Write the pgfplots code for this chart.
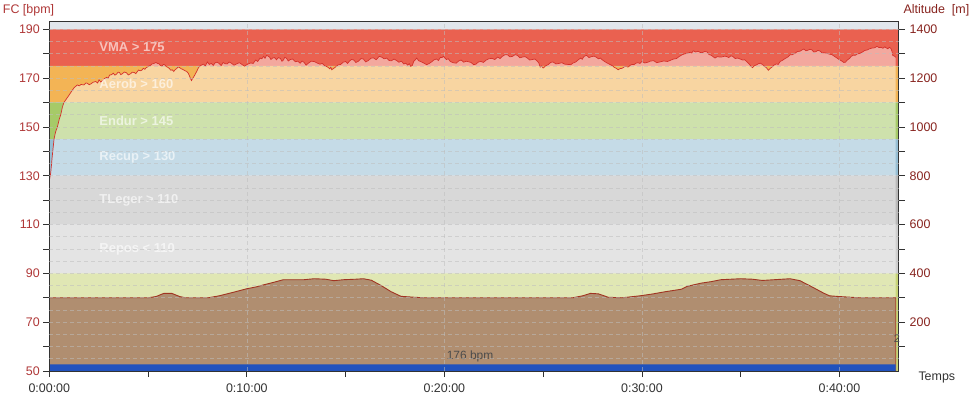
\documentclass[border=0pt]{standalone}
\usepackage{pgfplots}
\pgfplotsset{compat=1.18}
\usepackage{pgfplotstable}
\usepackage{fontspec}
\setmainfont{Liberation Sans}

\definecolor{topbg}{RGB}{225,230,236}
\definecolor{zvma}{RGB}{234,97,80}
\definecolor{zaer}{RGB}{243,180,85}
\definecolor{zend}{RGB}{166,202,104}
\definecolor{zrec}{RGB}{150,190,212}
\definecolor{ztle}{RGB}{185,185,185}
\definecolor{zrep}{RGB}{207,207,207}
\definecolor{zlow}{RGB}{200,213,119}
\definecolor{hrline}{RGB}{212,48,42}
\definecolor{altfill}{RGB}{176,142,112}
\definecolor{altline}{RGB}{160,52,34}
\definecolor{barblue}{RGB}{33,82,190}
\definecolor{fcred}{RGB}{175,55,55}
\definecolor{altred}{RGB}{135,35,30}
\definecolor{gridc}{RGB}{190,190,190}
\definecolor{txtgray}{RGB}{50,50,50}

\pgfplotstableread{
t bpm
0.00 128
0.07 131
0.15 138
0.24 145
0.32 148
0.41 150
0.50 153
0.58 155
0.66 158
0.74 160
0.87 161.5
1.00 163
1.12 164.5
1.25 166
1.42 167.2
1.52 166.8
1.60 167.4
1.75 167.2
1.85 168.0
1.92 167.9
2.02 167.3
2.10 167.6
2.22 168.3
2.35 168.6
2.45 168.0
2.52 169.3
2.60 168.4
2.70 169.0
2.80 169.8
2.90 170.3
2.98 170.0
3.05 171.2
3.15 171.4
3.24 172.0
3.32 171.2
3.40 171.6
3.48 172.4
3.55 172.3
3.62 171.4
3.70 171.8
3.80 172.5
3.90 172.2
4.00 171.3
4.10 171.7
4.20 172.4
4.30 172.3
4.38 171.8
4.45 172.6
4.52 173.3
4.60 173.0
4.68 173.2
4.76 174.0
4.84 173.6
4.90 174.2
4.98 174.6
5.05 175.0
5.12 175.2
5.20 175.8
5.30 176.0
5.40 176.4
5.48 176.0
5.55 175.9
5.62 175.2
5.70 174.9
5.78 175.6
5.85 175.4
5.92 174.7
6.00 174.4
6.08 173.9
6.15 173.2
6.22 173.4
6.30 172.7
6.38 173.5
6.45 173.9
6.52 174.6
6.60 174.3
6.68 173.8
6.75 173.6
6.85 173.1
6.96 172.7
7.04 171.9
7.10 170.8
7.15 169.8
7.20 169.0
7.26 169.9
7.32 170.6
7.40 171.8
7.46 172.7
7.53 173.9
7.60 174.8
7.70 175.3
7.80 175.7
7.90 175.0
8.00 176.6
8.10 175.6
8.20 176.0
8.30 175.2
8.40 176.3
8.50 176.5
8.60 176.0
8.70 175.1
8.80 176.4
8.90 175.9
9.00 175.8
9.10 176.6
9.20 176.2
9.35 175.3
9.50 175.9
9.62 176.3
9.75 175.6
9.88 174.9
10.00 175.5
10.10 175.9
10.20 176.2
10.32 176.0
10.45 177.4
10.55 176.8
10.67 178.2
10.76 177.9
10.85 178.9
10.92 178.1
11.00 179.3
11.08 179.0
11.15 178.6
11.22 177.6
11.30 178.2
11.40 178.4
11.50 177.5
11.60 178.4
11.70 178.0
11.78 176.9
11.85 177.4
11.92 178.5
12.00 178.2
12.10 177.0
12.20 177.6
12.32 177.8
12.45 176.7
12.58 176.9
12.70 176.1
12.80 177.0
12.90 176.4
13.00 175.3
13.10 176.0
13.25 176.9
13.40 176.8
13.55 176.2
13.70 175.7
13.82 176.0
13.95 175.0
14.08 174.6
14.20 173.8
14.25 174.5
14.30 173.4
14.40 174.0
14.50 174.6
14.62 175.4
14.75 175.6
14.88 176.5
15.00 176.8
15.10 176.0
15.20 177.0
15.30 177.6
15.40 177.5
15.52 176.4
15.65 176.9
15.78 178.0
15.90 177.8
16.02 176.6
16.15 177.2
16.28 178.1
16.40 178.3
16.55 177.5
16.70 178.9
16.82 178.6
16.95 177.9
17.08 178.2
17.20 177.2
17.32 177.1
17.45 177.8
17.58 177.2
17.70 176.5
17.82 176.9
17.95 175.8
18.05 176.1
18.15 175.3
18.22 175.9
18.30 174.8
18.38 175.2
18.45 176.9
18.52 177.4
18.60 178.2
18.70 177.1
18.80 176.8
18.95 176.2
19.10 175.5
19.22 175.9
19.35 176.6
19.48 177.5
19.60 177.8
19.70 177.2
19.80 178.5
19.88 178.4
19.95 178.9
20.02 178.3
20.10 177.6
20.20 177.9
20.30 176.8
20.45 176.3
20.60 176.1
20.72 177.0
20.85 177.4
20.98 176.5
21.10 176.9
21.22 176.7
21.35 176.4
21.48 175.5
21.60 175.7
21.72 176.6
21.85 176.8
21.98 176.4
22.10 177.3
22.25 177.9
22.40 178.1
22.55 177.6
22.70 178.6
22.82 178.0
22.95 179.0
23.08 179.6
23.20 179.5
23.32 178.7
23.45 178.9
23.58 179.6
23.70 179.3
23.82 178.3
23.95 178.6
24.08 178.8
24.20 178.2
24.32 177.4
24.45 177.6
24.58 177.8
24.70 177.0
24.78 176.2
24.85 174.5
24.92 175.0
25.00 174.1
25.12 175.0
25.25 175.5
25.38 176.4
25.50 176.6
25.65 175.8
25.80 176.0
25.95 176.3
26.10 175.7
26.25 175.6
26.40 175.5
26.52 176.2
26.65 176.6
26.78 177.5
26.90 178.2
26.98 177.7
27.05 178.7
27.12 179.1
27.20 179.3
27.32 178.4
27.45 178.8
27.58 179.0
27.70 178.5
27.80 177.9
27.90 178.2
28.02 177.3
28.15 176.6
28.28 176.0
28.40 175.5
28.50 175.1
28.60 174.4
28.70 174.0
28.80 173.4
28.90 173.9
29.00 174.0
29.10 174.6
29.20 174.8
29.30 174.5
29.40 175.2
29.50 175.6
29.60 175.5
29.70 176.1
29.80 176.3
29.90 176.0
30.00 176.8
30.15 176.2
30.30 176.5
30.45 177.0
30.60 177.1
30.75 176.3
30.90 176.6
31.10 177.0
31.30 176.8
31.45 177.3
31.60 177.8
31.75 178.0
31.90 178.9
32.05 179.6
32.20 180.0
32.32 180.2
32.45 180.6
32.52 180.3
32.60 181.2
32.72 180.7
32.85 181.0
32.95 180.5
33.05 180.4
33.18 180.9
33.30 180.7
33.40 179.6
33.50 179.4
33.60 178.8
33.70 178.2
33.82 178.8
33.95 178.6
34.08 178.7
34.20 179.0
34.30 178.8
34.40 178.4
34.50 179.1
34.60 178.9
34.72 178.0
34.85 178.2
34.98 177.8
35.10 177.4
35.20 177.5
35.30 176.8
35.38 176.2
35.45 175.6
35.52 174.8
35.60 174.3
35.70 175.1
35.80 175.4
35.90 175.9
36.00 176.1
36.10 175.6
36.20 174.8
36.30 174.3
36.40 173.2
36.50 174.0
36.60 174.6
36.70 175.4
36.80 175.8
36.90 175.6
37.00 176.8
37.12 177.3
37.25 178.0
37.38 178.6
37.50 179.5
37.62 179.6
37.75 180.2
37.88 180.9
38.00 181.0
38.10 181.5
38.20 181.9
38.30 181.2
38.40 181.4
38.50 181.8
38.60 181.6
38.70 180.7
38.80 180.8
38.90 181.3
39.00 181.2
39.12 180.3
39.25 180.4
39.38 180.1
39.50 179.8
39.62 179.6
39.75 178.9
39.88 178.2
40.00 177.5
40.08 177.2
40.15 176.8
40.22 176.4
40.30 176.5
40.40 177.4
40.50 178.0
40.60 178.9
40.70 179.4
40.80 179.3
40.90 179.9
41.02 180.1
41.15 180.6
41.28 181.3
41.40 181.5
41.52 182.0
41.65 182.3
41.78 182.4
41.90 183.0
42.00 182.5
42.10 182.6
42.20 182.2
42.30 182.8
42.38 182.3
42.45 182.0
42.52 182.6
42.60 182.2
42.66 181.0
42.70 179.3
42.78 179.0
42.85 178.5
}\hrdata

\pgfplotstableread{
t alt
0 300
5.0 300
5.4 305
5.8 318
6.2 318
6.6 305
6.9 300
8.05 300
8.6 308
9.2 320
10.0 337
10.5 345
10.8 352
11.3 362
11.85 374
12.9 374
13.4 378
14.0 376
14.4 370
14.9 374
15.5 376
15.9 378
16.3 372
16.8 350
17.3 325
17.8 306
18.5 302
19.0 300
26.5 300
27.0 308
27.4 318
27.8 316
28.3 302
29.0 300
29.9 308
30.5 315
31.2 325
32.0 335
32.3 347
33.0 360
33.5 366
34.0 374
35.0 378
35.6 376
36.1 371
36.7 374
37.5 378
38.0 370
38.6 345
39.2 319
39.5 308
40.0 305
41.0 300
42.85 300
}\altdata

\begin{document}
\begin{tikzpicture}
\useasboundingbox (-49.3bp,-25bp) rectangle (926.7bp,371bp);

% ---------- heart-rate axis (left) ----------
\begin{axis}[
  at={(0,0)}, anchor=south west,
  scale only axis, width=849.4bp, height=349.3bp,
  xmin=0, xmax=43.0, ymin=50, ymax=193.1,
  axis background/.style={fill=topbg},
  axis line style={draw=none},
  xtick=\empty,
  ytick={50,70,...,190}, minor ytick={60,80,...,180},
  ytick pos=left, yticklabel pos=left,
  tick align=outside,
  major tick length=6bp, minor tick length=6bp,
  every tick/.style={color=txtgray, line width=0.8pt},
  /pgf/number format/assume math mode=true,
  yticklabel style={font=\fontsize{12.5}{14}\selectfont, color=fcred},
]
\addplot[fill=zvma, draw=none] coordinates {(0,175)(43,175)(43,190)(0,190)(0,175)};
\addplot[fill=zaer, draw=none] coordinates {(0,160)(43,160)(43,175)(0,175)(0,160)};
\addplot[fill=zend, draw=none] coordinates {(0,145)(43,145)(43,160)(0,160)(0,145)};
\addplot[fill=zrec, draw=none] coordinates {(0,130)(43,130)(43,145)(0,145)(0,130)};
\addplot[fill=ztle, draw=none] coordinates {(0,110)(43,110)(43,130)(0,130)(0,110)};
\addplot[fill=zrep, draw=none] coordinates {(0,90)(43,90)(43,110)(0,110)(0,90)};
\addplot[fill=zlow, draw=none] coordinates {(0,50)(43,50)(43,90)(0,90)(0,50)};
\addplot[fill=white, fill opacity=0.45, draw=none] table[x=t,y=bpm]{\hrdata} \closedcycle;
\addplot[hrline, line width=0.7pt] table[x=t,y=bpm]{\hrdata};
\foreach \yy/\lab in {182.5/{VMA > 175},167.5/{Aerob > 160},152.5/{Endur > 145},137.5/{Recup > 130},120/{TLeger > 110},100/{Repos < 110}}{
  \edef\temp{\noexpand\node[anchor=west, text=white, text opacity=0.62, font=\noexpand\fontsize{13}{15}\noexpand\selectfont\noexpand\bfseries, inner sep=0pt] at (axis cs:2.53,\yy) {\lab};}
  \temp
}
\end{axis}

% ---------- altitude axis (right) ----------
\begin{axis}[
  at={(0,0)}, anchor=south west,
  scale only axis, width=849.4bp, height=349.3bp,
  xmin=0, xmax=43.0, ymin=0, ymax=1431,
  axis on top,
  axis line style={color=txtgray, line width=1pt},
  ytick={200,400,...,1400}, minor ytick={100,300,...,1300},
  ytick pos=right, yticklabel pos=right,
  xtick={0,10,20,30,40}, minor xtick={5,15,25,35},
  xticklabels={0:00:00,0:10:00,0:20:00,0:30:00,0:40:00},
  xtick pos=bottom,
  xmajorgrids,
  extra y ticks={50,100,...,1400},
  extra y tick labels={},
  extra y tick style={grid=major, major tick length=0pt},
  major grid style={color=gridc, opacity=0.55, line width=0.6pt, dash pattern=on 4bp off 3bp},
  tick align=outside,
  major tick length=6bp, minor tick length=6bp,
  every tick/.style={color=txtgray, line width=0.8pt},
  /pgf/number format/assume math mode=true,
  /pgf/number format/1000 sep={},
  yticklabel style={font=\fontsize{12.5}{14}\selectfont, color=altred, xshift=1.5bp},
  xticklabel style={font=\fontsize{12.5}{14}\selectfont, color=txtgray, yshift=-3bp},
]
\addplot[fill=altfill, draw=altline, line width=0.9pt] table[x=t,y=alt]{\altdata} \closedcycle;
\addplot[fill=barblue, draw=none] coordinates {(0,0)(42.85,0)(42.85,27)(0,27)(0,0)};
\node[font=\fontsize{12}{14}\selectfont, text=black!70] at (axis cs:21.3,60) {176 bpm};
\end{axis}

\node[anchor=base west, font=\fontsize{12.5}{14}\selectfont, text=fcred, inner sep=0pt] at (-46.6bp,357bp) {FC [bpm]};
\node[anchor=base west, font=\fontsize{12.5}{14}\selectfont, text=altred, inner sep=0pt] at (854bp,357.7bp) {Altitude\ \ [m]};
\node[anchor=base west, font=\fontsize{12.5}{14}\selectfont, text=txtgray, inner sep=0pt] at (869bp,-9bp) {Temps};
\node[font=\fontsize{11}{12}\selectfont, text=black!70, inner sep=0pt] at (847.5bp,32bp) {2};
\end{tikzpicture}
\end{document}
